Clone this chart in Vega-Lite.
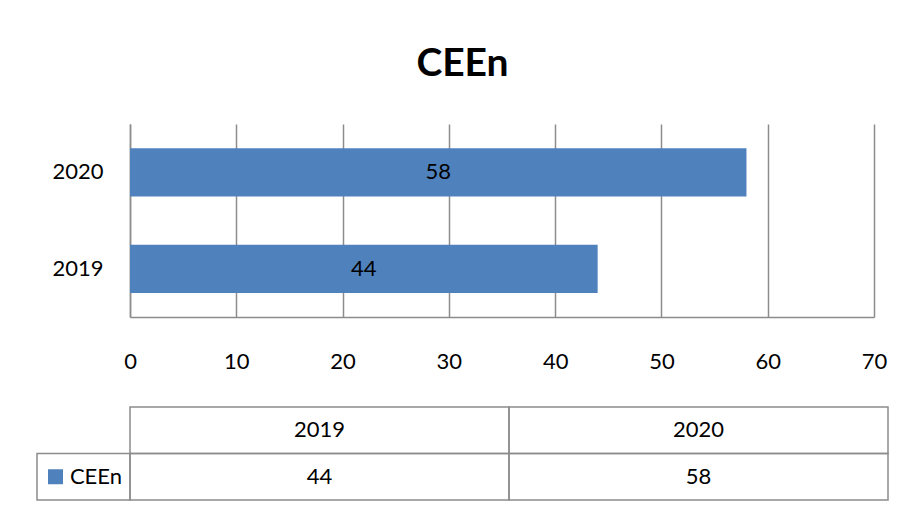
{
  "$schema": "https://vega.github.io/schema/vega-lite/v6.json",
  "padding": {"left": 36, "top": 45, "right": 5, "bottom": 5},
  "background": "white",
  "title": {"text": "CEEn", "font": "Lato", "fontSize": 39, "fontWeight": "bold", "color": "#000000", "anchor": "middle", "offset": 40},
  "data": {"values": [
    {"series": "CEEn", "year": "2019", "value": 44},
    {"series": "CEEn", "year": "2020", "value": 58}
  ]},
  "spacing": 34,
  "vconcat": [
    {
      "width": 744,
      "height": 193,
      "encoding": {
        "y": {"field": "year", "type": "nominal", "sort": ["2020", "2019"],
          "scale": {"paddingInner": 0.5, "paddingOuter": 0.25},
          "axis": {"title": null, "ticks": false, "labelPadding": 27, "labelFont": "Lato", "labelFontSize": 22, "labelColor": "#000000", "domainColor": "#8c8c8c", "domainWidth": 1.5}}
      },
      "layer": [
        {
          "mark": {"type": "bar"},
          "encoding": {
            "x": {"field": "value", "type": "quantitative", "scale": {"domain": [0, 70], "nice": false},
              "axis": {"title": null, "values": [0, 10, 20, 30, 40, 50, 60, 70], "labelFlush": false, "grid": true, "gridColor": "#8c8c8c", "gridWidth": 1.5, "ticks": false, "domainColor": "#8c8c8c", "domainWidth": 1.5, "labelPadding": 34, "labelFont": "Lato", "labelFontSize": 22, "labelColor": "#000000"}},
            "color": {"field": "series", "type": "nominal", "scale": {"range": ["#4F81BD"]}, "legend": null}
          }
        },
        {
          "mark": {"type": "text", "font": "Lato", "fontSize": 22, "color": "#000000"},
          "encoding": {
            "x": {"field": "value", "type": "quantitative", "stack": "zero", "bandPosition": 0.5},
            "text": {"field": "value", "type": "quantitative"}
          }
        }
      ]
    },
    {
      "width": 758,
      "height": 93,
      "layer": [
        {
          "encoding": {
            "x": {"field": "year", "type": "nominal", "scale": {"domain": ["2019", "2020"], "paddingInner": 0, "paddingOuter": 0}, "axis": null}
          },
          "layer": [
            {
              "mark": {"type": "rect", "fill": "transparent", "stroke": "#8c8c8c", "strokeWidth": 1.5},
              "encoding": {"y": {"datum": "Year", "type": "nominal", "scale": {"domain": ["Year", "CEEn"], "paddingInner": 0, "paddingOuter": 0}, "axis": null}}
            },
            {
              "mark": {"type": "rect", "fill": "transparent", "stroke": "#8c8c8c", "strokeWidth": 1.5},
              "encoding": {"y": {"datum": "CEEn", "type": "nominal", "scale": {"domain": ["Year", "CEEn"], "paddingInner": 0, "paddingOuter": 0}, "axis": null}}
            },
            {
              "mark": {"type": "text", "font": "Lato", "fontSize": 22, "color": "#000000"},
              "encoding": {
                "y": {"datum": "Year", "type": "nominal", "scale": {"domain": ["Year", "CEEn"], "paddingInner": 0, "paddingOuter": 0}, "axis": null},
                "text": {"field": "year", "type": "nominal"}
              }
            },
            {
              "mark": {"type": "text", "font": "Lato", "fontSize": 22, "color": "#000000"},
              "encoding": {
                "y": {"datum": "CEEn", "type": "nominal", "scale": {"domain": ["Year", "CEEn"], "paddingInner": 0, "paddingOuter": 0}, "axis": null},
                "text": {"field": "value", "type": "quantitative"}
              }
            }
          ]
        },
        {
          "transform": [{"aggregate": [{"op": "count", "as": "n"}], "groupby": ["series"]}],
          "encoding": {
            "x": {"field": "series", "type": "nominal", "scale": {"range": [-93, 0], "paddingInner": 0, "paddingOuter": 0}, "axis": null},
            "y": {"field": "series", "type": "nominal", "scale": {"domain": ["Year", "CEEn"], "paddingInner": 0, "paddingOuter": 0}, "axis": null}
          },
          "layer": [
            {"mark": {"type": "rect", "fill": "transparent", "stroke": "#8c8c8c", "strokeWidth": 1.5}},
            {
              "mark": {"type": "point", "shape": "square", "filled": true, "size": 225, "opacity": 1, "xOffset": 18.5},
              "encoding": {
                "x": {"field": "series", "type": "nominal", "bandPosition": 0, "scale": {"range": [-93, 0], "paddingInner": 0, "paddingOuter": 0}, "axis": null},
                "color": {"field": "series", "type": "nominal", "legend": null}
              }
            },
            {
              "mark": {"type": "text", "font": "Lato", "fontSize": 22, "color": "#000000", "align": "right", "dx": -8},
              "encoding": {
                "x": {"field": "series", "type": "nominal", "bandPosition": 1, "scale": {"range": [-93, 0], "paddingInner": 0, "paddingOuter": 0}, "axis": null},
                "text": {"field": "series", "type": "nominal"}
              }
            }
          ]
        }
      ],
      "resolve": {"scale": {"x": "independent"}}
    }
  ],
  "config": {"view": {"stroke": null}}
}
